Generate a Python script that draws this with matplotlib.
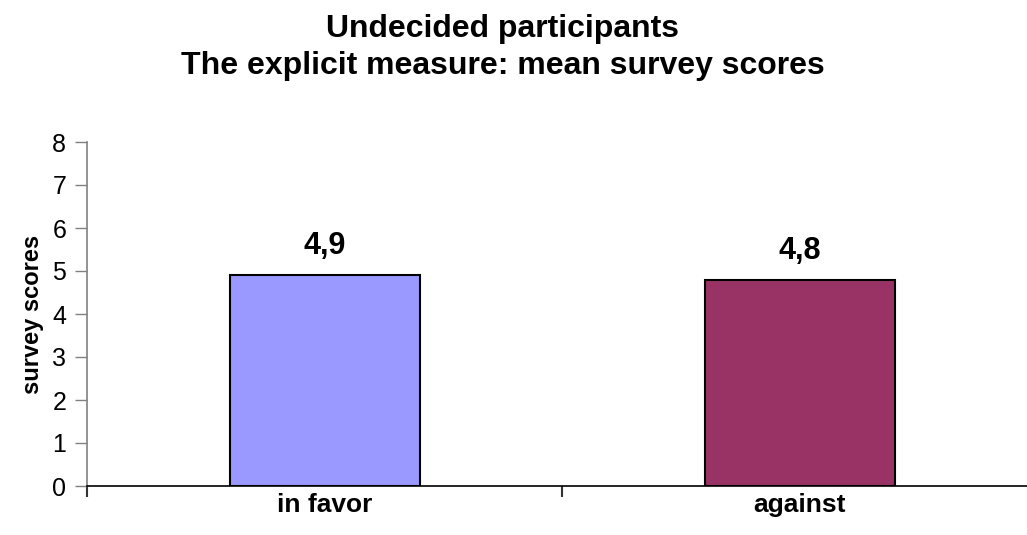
import matplotlib.pyplot as plt
import numpy as np

plt.rcParams["font.family"] = ["Liberation Sans", "DejaVu Sans"]

groups = ["in favor", "against"]
scores = [4.9, 4.8]
score_labels = ["4,9", "4,8"]
bar_colors = ["#9999FF", "#993366"]
y_ticks = [0, 1, 2, 3, 4, 5, 6, 7, 8]

fig = plt.figure(figsize=(10.27, 5.35), dpi=100)
ax = fig.add_axes([87 / 1027, 1 - 486 / 535, 950 / 1027, 344 / 535])

x = np.arange(len(groups))
bars = ax.bar(x, scores, width=0.40, color=bar_colors, edgecolor="black", linewidth=1.5, zorder=3)

for b, lab in zip(bars, score_labels):
    ax.annotate(lab, (b.get_x() + b.get_width() / 2, b.get_height()),
                xytext=(0, 15), textcoords="offset points",
                ha="center", va="baseline", fontsize=22, fontweight="bold")

ax.set_xlim(-0.5, 1.5)
ax.set_ylim(0, 8)
ax.set_yticks(y_ticks)
ax.tick_params(axis="y", direction="out", length=9, width=1, color="#808080",
               labelsize=18, pad=6)

# category labels centred, tick marks between categories
ax.set_xticks(x)
ax.set_xticklabels(groups, fontsize=19, fontweight="bold")
ax.tick_params(axis="x", which="major", length=0, pad=5)
ax.set_xticks([-0.5, 0.5, 1.5], minor=True)
ax.tick_params(axis="x", which="minor", direction="out", length=8, width=1.5, color="#333333")

for s in ["top", "right"]:
    ax.spines[s].set_visible(False)
ax.spines["left"].set_color("#808080")
ax.spines["left"].set_linewidth(1.2)
ax.spines["bottom"].set_color("black")
ax.spines["bottom"].set_linewidth(1.2)

ax.set_ylabel("survey scores", fontsize=17, fontweight="bold", labelpad=6)

fig.text(503 / 1027, 1 - 37 / 535, "Undecided participants", ha="center", va="baseline",
         fontsize=23, fontweight="bold")
fig.text(503 / 1027, 1 - 74 / 535, "The explicit measure: mean survey scores", ha="center",
         va="baseline", fontsize=23, fontweight="bold")

fig.savefig("out.png", dpi=100)
